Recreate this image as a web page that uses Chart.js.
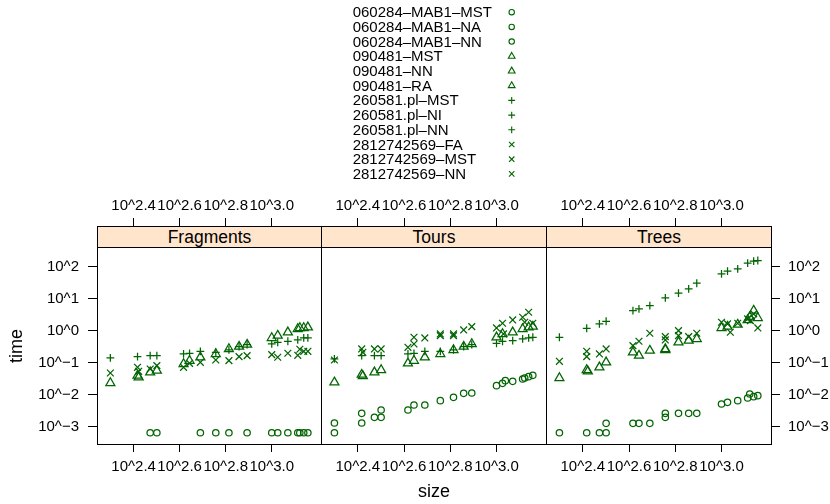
<!DOCTYPE html>
<html>
<head>
<meta charset="utf-8">
<script src="https://cdn.jsdelivr.net/npm/chart.js@4.4.1/dist/chart.umd.min.js"></script>
<style>
  html, body { margin: 0; padding: 0; background: #fff; }
  #page { position: relative; width: 830px; height: 504px; overflow: hidden;
          font-family: 'Liberation Sans', Arial, Helvetica, sans-serif; color: #000; }
  #page canvas { position: absolute; left: 0; top: 0; }
  .key { position: absolute; left: 352.7px; height: 18px; line-height: 18px; font-size: 15px; white-space: nowrap; }
  .strip { position: absolute; top: 226px; height: 22px; box-sizing: border-box; border: 1px solid #000;
           background: #ffe5cc; text-align: center; line-height: 20px; font-size: 17.5px; }
  .title { position: absolute; font-size: 18px; line-height: 22px; text-align: center; white-space: nowrap; }
</style>
</head>
<body>
<div id="page">
  <canvas id="keyCanvas" width="830" height="190"></canvas>
  <canvas id="panel0" width="830" height="504"></canvas>
  <canvas id="panel1" width="830" height="504"></canvas>
  <canvas id="panel2" width="830" height="504"></canvas>
  <div class="title" style="left:404px; top:480px; width:60px;">size</div>
  <div class="title" style="left:-13.7px; top:334.5px; width:60px; transform:rotate(-90deg);">time</div>
</div>
<script>
// ─── DATA ────────────────────────────────────────────────────
const panels = ['Fragments', 'Tours', 'Trees'];
const groups = [
    '060284–MAB1–MST', '060284–MAB1–NA', '060284–MAB1–NN',
    '090481–MST', '090481–NN', '090481–RA',
    '260581.pl–MST', '260581.pl–NI', '260581.pl–NN',
    '2812742569–FA', '2812742569–MST', '2812742569–NN'
];
const groupSymbols = ['circle', 'circle', 'circle', 'triangle', 'triangle', 'triangle',
                      'cross', 'cross', 'cross', 'crossRot', 'crossRot', 'crossRot'];
const xTicks = [2.4, 2.6, 2.8, 3.0];     // log10(size)
const yTicks = [-3, -2, -1, 0, 1, 2];    // log10(time)

// points as [log10(size), log10(time)], one list per symbol family and panel
const circFragments = [[2.472,-3.19],[2.501,-3.19],[2.690,-3.19],[2.757,-3.19],[2.814,-3.19],[2.893,-3.19],
    [3.000,-3.19],[3.026,-3.19],[3.070,-3.19],[3.113,-3.19],[3.122,-3.19],[3.139,-3.19],[3.157,-3.19]];
const triFragments = [[2.299,-1.635],[2.417,-1.406],[2.422,-1.458],[2.472,-1.302],[2.501,-1.25],[2.617,-1.042],
    [2.643,-0.938],[2.690,-0.833],[2.757,-0.729],[2.814,-0.573],[2.858,-0.5],[2.893,-0.438],[3.000,-0.229],
    [3.026,-0.156],[3.070,-0.052],[3.113,0.052],[3.122,0.083],[3.139,0.083],[3.157,0.104]];
const plusFragments = [[2.299,-0.854],[2.417,-0.813],[2.472,-0.781],[2.501,-0.781],[2.617,-0.729],[2.643,-0.708],
    [2.690,-0.646],[2.757,-0.677],[2.814,-0.604],[2.858,-0.5],[2.893,-0.438],[3.000,-0.417],[3.026,-0.365],
    [3.070,-0.333],[3.113,-0.292],[3.139,-0.229],[3.157,-0.229]];
const crossFragments = [[2.299,-1.323],[2.417,-1.146],[2.422,-1.271],[2.472,-1.198],[2.501,-1.094],[2.617,-1.146],
    [2.643,-1.021],[2.690,-0.99],[2.757,-0.917],[2.814,-0.938],[2.858,-0.813],[2.893,-0.781],[3.000,-0.75],
    [3.026,-0.833],[3.070,-0.708],[3.113,-0.771],[3.122,-0.583],[3.139,-0.646],[3.157,-0.646]];

const circTours = [[2.299,-2.885],[2.299,-3.188],[2.417,-2.583],[2.417,-2.885],[2.472,-2.708],[2.501,-2.479],
    [2.501,-2.708],[2.617,-2.479],[2.643,-2.323],[2.690,-2.323],[2.757,-2.188],[2.814,-2.083],[2.858,-1.958],
    [2.893,-1.948],[3.000,-1.719],[3.026,-1.646],[3.038,-1.563],[3.070,-1.583],[3.113,-1.51],[3.122,-1.479],
    [3.139,-1.438],[3.157,-1.396]];
const triTours = [[2.299,-1.615],[2.417,-1.375],[2.422,-1.417],[2.472,-1.302],[2.501,-1.229],[2.617,-1.021],
    [2.643,-0.938],[2.690,-0.833],[2.757,-0.729],[2.814,-0.604],[2.858,-0.5],[2.893,-0.417],[3.000,-0.208],
    [3.026,-0.104],[3.070,-0.052],[3.113,0.052],[3.139,0.104],[3.157,0.125]];
const plusTours = [[2.299,-0.885],[2.417,-0.781],[2.472,-0.781],[2.501,-0.781],[2.617,-0.729],[2.643,-0.708],
    [2.690,-0.646],[2.757,-0.646],[2.814,-0.604],[2.858,-0.5],[2.893,-0.438],[3.000,-0.396],[3.026,-0.333],
    [3.070,-0.313],[3.113,-0.26],[3.139,-0.229],[3.157,-0.208]];
const crossTours = [[2.299,-0.917],[2.417,-0.573],[2.422,-0.677],[2.472,-0.573],[2.501,-0.573],[2.617,-0.521],
    [2.643,-0.417],[2.643,-0.208],[2.690,-0.229],[2.757,-0.156],[2.757,-0.104],[2.814,-0.156],[2.814,-0.104],
    [2.858,0.021],[2.893,0.125],[3.000,0.083],[3.026,0.229],[3.030,-0.104],[3.070,0.333],[3.113,0.417],
    [3.122,0.26],[3.139,0.573],[3.157,0.229]];

const circTrees = [[2.299,-3.188],[2.417,-3.188],[2.472,-3.188],[2.501,-3.188],[2.501,-2.896],[2.617,-2.896],
    [2.643,-2.896],[2.690,-2.896],[2.757,-2.708],[2.757,-2.583],[2.814,-2.583],[2.858,-2.583],[2.893,-2.583],
    [3.000,-2.292],[3.026,-2.24],[3.070,-2.188],[3.113,-2.104],[3.122,-1.979],[3.139,-2.063],[3.157,-2.031]];
const triTrees = [[2.299,-1.479],[2.417,-1.229],[2.422,-1.271],[2.472,-1.146],[2.501,-0.99],[2.617,-0.677],
    [2.643,-0.781],[2.690,-0.625],[2.757,-0.573],[2.757,-0.604],[2.814,-0.365],[2.858,-0.313],[2.893,-0.26],
    [3.000,0.083],[3.026,0.125],[3.070,0.188],[3.113,0.333],[3.122,0.417],[3.139,0.625],[3.157,0.396]];
const plusTrees = [[2.299,-0.208],[2.417,0.073],[2.472,0.208],[2.501,0.292],[2.617,0.625],[2.643,0.677],
    [2.690,0.781],[2.757,1.021],[2.814,1.167],[2.858,1.302],[2.893,1.479],[3.000,1.771],[3.026,1.854],
    [3.070,1.927],[3.113,2.104],[3.139,2.167],[3.157,2.188]];
const crossTrees = [[2.299,-0.958],[2.417,-0.646],[2.417,-0.813],[2.472,-0.729],[2.501,-0.573],[2.617,-0.469],
    [2.643,-0.333],[2.690,-0.083],[2.757,-0.188],[2.757,-0.292],[2.814,0],[2.814,-0.156],[2.858,-0.188],
    [2.893,-0.083],[3.000,0.26],[3.026,0.208],[3.038,-0.052],[3.070,0.229],[3.113,0.365],[3.125,0.313],
    [3.139,0.521],[3.157,0.083]];

// symbol families (three groups each share one symbol)
const families = [
    { label: '060284–MAB1', symbol: 'circle',   values: [circFragments,  circTours,  circTrees] },
    { label: '090481',      symbol: 'triangle', values: [triFragments,   triTours,   triTrees] },
    { label: '260581.pl',   symbol: 'cross',    values: [plusFragments,  plusTours,  plusTrees] },
    { label: '2812742569',  symbol: 'crossRot', values: [crossFragments, crossTours, crossTrees] }
];

// ─── LOOK ────────────────────────────────────────────────────
const GREEN = '#006400';
const X_MIN = 2.241, X_MAX = 3.214;
const Y_MIN = -3.54, Y_MAX = 2.61;
const PANEL_X = [97, 321, 546, 771];
const PLOT_TOP = 247, PLOT_BOTTOM = 444;

const pointLook = {
    circle:   { radius: 3.2, key: 2.7 },
    triangle: { radius: 5.2, key: 3.9 },
    cross:    { radius: 3.9, key: 3.4 },
    crossRot: { radius: 4.8, key: 3.8 }
};

Chart.defaults.font.family = "'Liberation Sans', Arial, Helvetica, sans-serif";
Chart.defaults.font.size = 15;
Chart.defaults.color = '#000';

const xLabel = v => '10^' + v.toFixed(1);
const yLabel = v => '10^' + (v < 0 ? '\u2212' + Math.abs(v) : v);

// panel frame drawn round the chart area
const panelBox = {
    id: 'panelBox',
    afterDatasetsDraw(chart) {
        const { ctx, chartArea: a } = chart;
        ctx.save();
        ctx.strokeStyle = '#000';
        ctx.lineWidth = 1;
        ctx.strokeRect(Math.round(a.left) + 0.5, Math.round(a.top) + 0.5,
                       Math.round(a.right - a.left), Math.round(a.bottom - a.top));
        ctx.restore();
    }
};

function tickGrid(len) {
    return { drawOnChartArea: false, drawTicks: true, tickLength: len, color: '#000', lineWidth: 1 };
}

// ─── PANELS ──────────────────────────────────────────────────
function buildPanel(p) {
    const left = PANEL_X[p], right = PANEL_X[p + 1];
    const first = p === 0, last = p === panels.length - 1;
    const yWidth = first ? 60 : last ? 830 - right : 0;

    new Chart(document.getElementById('panel' + p), {
        type: 'scatter',
        data: {
            datasets: families.map(f => ({
                label: f.label,
                data: f.values[p].map(([x, y]) => ({ x, y })),
                pointStyle: f.symbol,
                pointRadius: pointLook[f.symbol].radius,
                pointHoverRadius: pointLook[f.symbol].radius,
                borderColor: GREEN,
                backgroundColor: 'rgba(0,0,0,0)',
                borderWidth: 1.25
            }))
        },
        options: {
            responsive: false,
            animation: false,
            devicePixelRatio: 1,
            events: [],
            layout: {
                padding: {
                    left: first ? left - yWidth : left,
                    right: last ? 0 : 830 - right,
                    top: PLOT_TOP - 50,
                    bottom: 504 - PLOT_BOTTOM - 40
                }
            },
            plugins: { legend: { display: false }, tooltip: { enabled: false } },
            scales: {
                x: {
                    type: 'linear', position: 'bottom', min: X_MIN, max: X_MAX,
                    border: { display: false },
                    grid: tickGrid(8),
                    ticks: { padding: 6, maxRotation: 0, autoSkip: false, callback: xLabel },
                    afterBuildTicks: s => { s.ticks = xTicks.map(v => ({ value: v })); },
                    afterFit: s => { s.height = 40; }
                },
                xTop: {
                    type: 'linear', position: 'top', min: X_MIN, max: X_MAX,
                    border: { display: false },
                    grid: tickGrid(29),
                    ticks: { padding: 3, maxRotation: 0, autoSkip: false, callback: xLabel },
                    afterBuildTicks: s => { s.ticks = xTicks.map(v => ({ value: v })); },
                    afterFit: s => { s.height = 50; }
                },
                y: {
                    type: 'linear', min: Y_MIN, max: Y_MAX,
                    display: first || last,
                    position: last ? 'right' : 'left',
                    border: { display: false },
                    grid: tickGrid(9),
                    ticks: { padding: last ? 8 : 9, autoSkip: false, callback: yLabel },
                    afterBuildTicks: s => { s.ticks = yTicks.map(v => ({ value: v })); },
                    afterFit: s => { s.width = yWidth; }
                }
            }
        },
        plugins: [panelBox]
    });

    // strip with the panel name
    const strip = document.createElement('div');
    strip.className = 'strip';
    strip.style.left = left + 'px';
    strip.style.width = (right - left + 1) + 'px';
    strip.textContent = panels[p];
    document.getElementById('page').appendChild(strip);
}

// ─── KEY ─────────────────────────────────────────────────────
function drawSymbol(ctx, style, r, x, y) {
    if (Chart.helpers && Chart.helpers.drawPoint) {
        Chart.helpers.drawPoint(ctx, { pointStyle: style, radius: r, borderWidth: 1, rotation: 0 }, x, y);
        return;
    }
    ctx.beginPath();
    if (style === 'circle') ctx.arc(x, y, r, 0, Math.PI * 2);
    ctx.stroke();
}

function buildKey() {
    const page = document.getElementById('page');
    const ctx = document.getElementById('keyCanvas').getContext('2d');
    ctx.strokeStyle = GREEN;
    ctx.fillStyle = 'rgba(0,0,0,0)';
    ctx.lineWidth = 1.1;
    groups.forEach((name, i) => {
        const yc = 12.2 + i * 14.7;
        const row = document.createElement('div');
        row.className = 'key';
        row.style.top = (yc - 9) + 'px';
        row.textContent = name;
        page.appendChild(row);
        drawSymbol(ctx, groupSymbols[i], pointLook[groupSymbols[i]].key, 511.7, yc);
    });
}

// ─── INIT ────────────────────────────────────────────────────
panels.forEach((_, p) => buildPanel(p));
buildKey();
</script>
</body>
</html>
